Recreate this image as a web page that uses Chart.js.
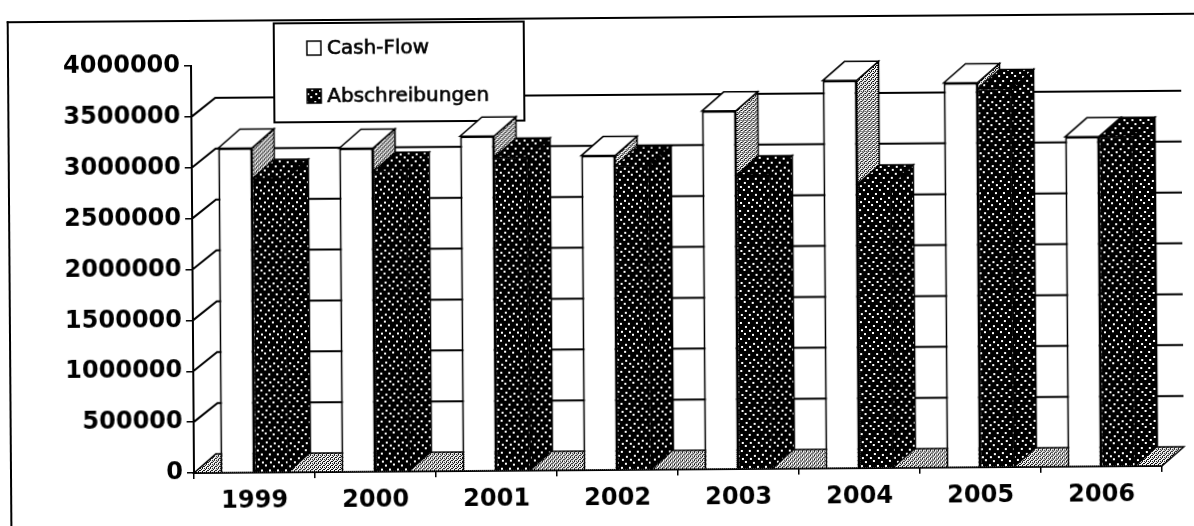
<!DOCTYPE html>
<html lang="de">
<head>
  <meta charset="UTF-8" />
  <title>Cash-Flow und Abschreibungen 1999–2006</title>
  <script src="https://cdn.jsdelivr.net/npm/chart.js"></script>
  <style>
    html, body { margin: 0; padding: 0; background: #fff; overflow: hidden; }
    /* der Scan ist leicht schief */
    #blatt { position: relative; width: 1194px; height: 526px; transform: rotate(-0.42deg); transform-origin: 194px 473px; }
    #rahmen { position: absolute; left: 10px; top: 20px; width: 1220px; height: 540px; border-left: 2px solid #000; border-top: 2px solid #000; }
    canvas { position: absolute; left: 0; top: 0; }
  </style>
</head>
<body>
  <div id="blatt">
    <div id="rahmen"></div>
    <canvas id="grafik" width="1194" height="526"></canvas>
  </div>

  <script>
    const jahre = ['1999', '2000', '2001', '2002', '2003', '2004', '2005', '2006'];
    const cashFlow = [3190000, 3180000, 3290000, 3090000, 3520000, 3810000, 3780000, 3240000];
    const abschreibungen = [2890000, 2950000, 3080000, 2990000, 2890000, 2790000, 3720000, 3240000];
    const werteAchse = [0, 500000, 1000000, 1500000, 2000000, 2500000, 3000000, 3500000, 4000000];

    // Tiefe der 3D-Säulen in Pixeln
    const TX = 22, TY = 19;

    const canvas = document.getElementById('grafik');
    const ctx = canvas.getContext('2d');

    // schwarz mit weißen Punkten
    function punktMuster() {
      const c = document.createElement('canvas');
      c.width = 16; c.height = 16;
      const g = c.getContext('2d');
      g.fillStyle = '#000';
      g.fillRect(0, 0, 16, 16);
      g.fillStyle = '#fff';
      [[1, 2], [9, 1], [5, 6], [13, 6], [2, 11], [10, 10], [6, 14], [14, 14]].forEach(([x, y]) => g.fillRect(x, y, 2, 2));
      return ctx.createPattern(c, 'repeat');
    }

    // graues Raster für Seitenflächen und Boden
    function rasterMuster() {
      const c = document.createElement('canvas');
      c.width = 4; c.height = 4;
      const g = c.getContext('2d');
      g.fillStyle = '#fff';
      g.fillRect(0, 0, 4, 4);
      g.fillStyle = '#000';
      [[0, 0], [2, 0], [1, 1], [3, 2], [0, 2], [2, 3]].forEach(([x, y]) => g.fillRect(x, y, 1, 1));
      return ctx.createPattern(c, 'repeat');
    }

    const punkte = punktMuster();
    const raster = rasterMuster();

    function flaeche(c, pts, fill) {
      c.beginPath();
      c.moveTo(pts[0][0], pts[0][1]);
      for (let i = 1; i < pts.length; i++) c.lineTo(pts[i][0], pts[i][1]);
      c.closePath();
      c.fillStyle = fill;
      c.fill();
      c.stroke();
    }

    function seiteUndDach(c, bar, seite, dach) {
      const l = bar.x - bar.width / 2, r = bar.x + bar.width / 2, t = bar.y, b = bar.base;
      flaeche(c, [[r, t], [r + TX, t - TY], [r + TX, b - TY], [r, b]], seite);
      flaeche(c, [[l, t], [r, t], [r + TX, t - TY], [l + TX, t - TY]], dach);
    }

    const raumPlugin = {
      id: 'raum',
      beforeDatasetsDraw(chart) {
        const c = chart.ctx, a = chart.chartArea, y = chart.scales.y;
        c.save();
        c.strokeStyle = '#000';
        c.lineWidth = 1.5;

        // Boden
        flaeche(c, [[a.left, a.bottom], [a.right, a.bottom], [a.right + TX, a.bottom - TY], [a.left + TX, a.bottom - TY]], raster);

        // Gitterlinien an der Rückwand
        c.lineWidth = 2;
        c.beginPath();
        werteAchse.forEach(v => {
          if (v === 0 || v === werteAchse[werteAchse.length - 1]) return;
          const py = y.getPixelForValue(v);
          c.moveTo(a.left, py);
          c.lineTo(a.left + TX + 2, py - TY);
          c.lineTo(a.right + TX, py - TY);
        });
        c.stroke();

        // Legende (liegt hinter den Säulen)
        const lx = 277, ly = 24, lw = 250, lh = 99;
        c.fillStyle = '#fff';
        c.fillRect(lx, ly, lw, lh);
        c.strokeRect(lx, ly, lw, lh);
        c.lineWidth = 1.5;
        const eintraege = [
          { text: chart.data.datasets[0].label, fill: '#fff', y: 49 },
          { text: chart.data.datasets[1].label, fill: punkte, y: 97 }
        ];
        c.font = '20px "DejaVu Sans"';
        c.textBaseline = 'middle';
        eintraege.forEach(e => {
          c.fillStyle = e.fill;
          c.strokeStyle = '#000';
          c.lineWidth = 1.5;
          c.fillRect(310, e.y - 7, 14, 14);
          c.strokeRect(310, e.y - 7, 14, 14);
          c.fillStyle = '#000';
          c.lineWidth = 0.6;
          c.fillText(e.text, 330, e.y + 1);
          c.strokeText(e.text, 330, e.y + 1);
        });
        c.restore();
      },
      // Seiten- und Dachflächen; die dunkle Säule steht vor der Seite der weißen
      afterDatasetsDraw(chart) {
        const c = chart.ctx;
        const weiss = chart.getDatasetMeta(0).data;
        const dunkel = chart.getDatasetMeta(1).data;
        c.save();
        c.strokeStyle = '#000';
        c.lineWidth = 1.5;
        weiss.forEach((bar, i) => {
          seiteUndDach(c, bar, raster, '#fff');
          dunkel[i].draw(c);
          c.strokeStyle = '#000';
          c.lineWidth = 1.5;
          seiteUndDach(c, dunkel[i], punkte, punkte);
        });
        c.restore();
      }
    };

    new Chart(ctx, {
      type: 'bar',
      data: {
        labels: jahre,
        datasets: [
          {
            label: 'Cash-Flow',
            data: cashFlow,
            backgroundColor: '#fff',
            borderColor: '#000',
            borderWidth: 2
          },
          {
            label: 'Abschreibungen',
            data: abschreibungen,
            backgroundColor: punkte,
            borderColor: '#000',
            borderWidth: 1
          }
        ]
      },
      options: {
        responsive: false,
        animation: false,
        devicePixelRatio: 1,
        layout: { padding: { top: 66, right: 32, bottom: 0, left: 0 } },
        datasets: { bar: { categoryPercentage: 0.5625, barPercentage: 1 } },
        plugins: { legend: { display: false }, tooltip: { enabled: false } },
        scales: {
          x: {
            offset: true,
            afterFit: s => { s.height = 53; },
            border: { color: '#000', width: 2 },
            grid: { drawOnChartArea: false, tickLength: 6, color: '#000', lineWidth: 1.5 },
            ticks: { color: '#000', padding: 8, font: { family: 'DejaVu Sans', size: 24, weight: 'bold' } }
          },
          y: {
            min: 0,
            max: 4000000,
            afterFit: s => { s.width = 194; },
            afterBuildTicks: s => { s.ticks = werteAchse.map(v => ({ value: v })); },
            border: { color: '#000', width: 2 },
            grid: { drawOnChartArea: false, tickLength: 7, color: '#000', lineWidth: 1.5 },
            ticks: {
              color: '#000',
              padding: 4,
              font: { family: 'DejaVu Sans', size: 24, weight: 'bold' },
              callback: v => String(v)
            }
          }
        }
      },
      plugins: [raumPlugin]
    });
  </script>
</body>
</html>
